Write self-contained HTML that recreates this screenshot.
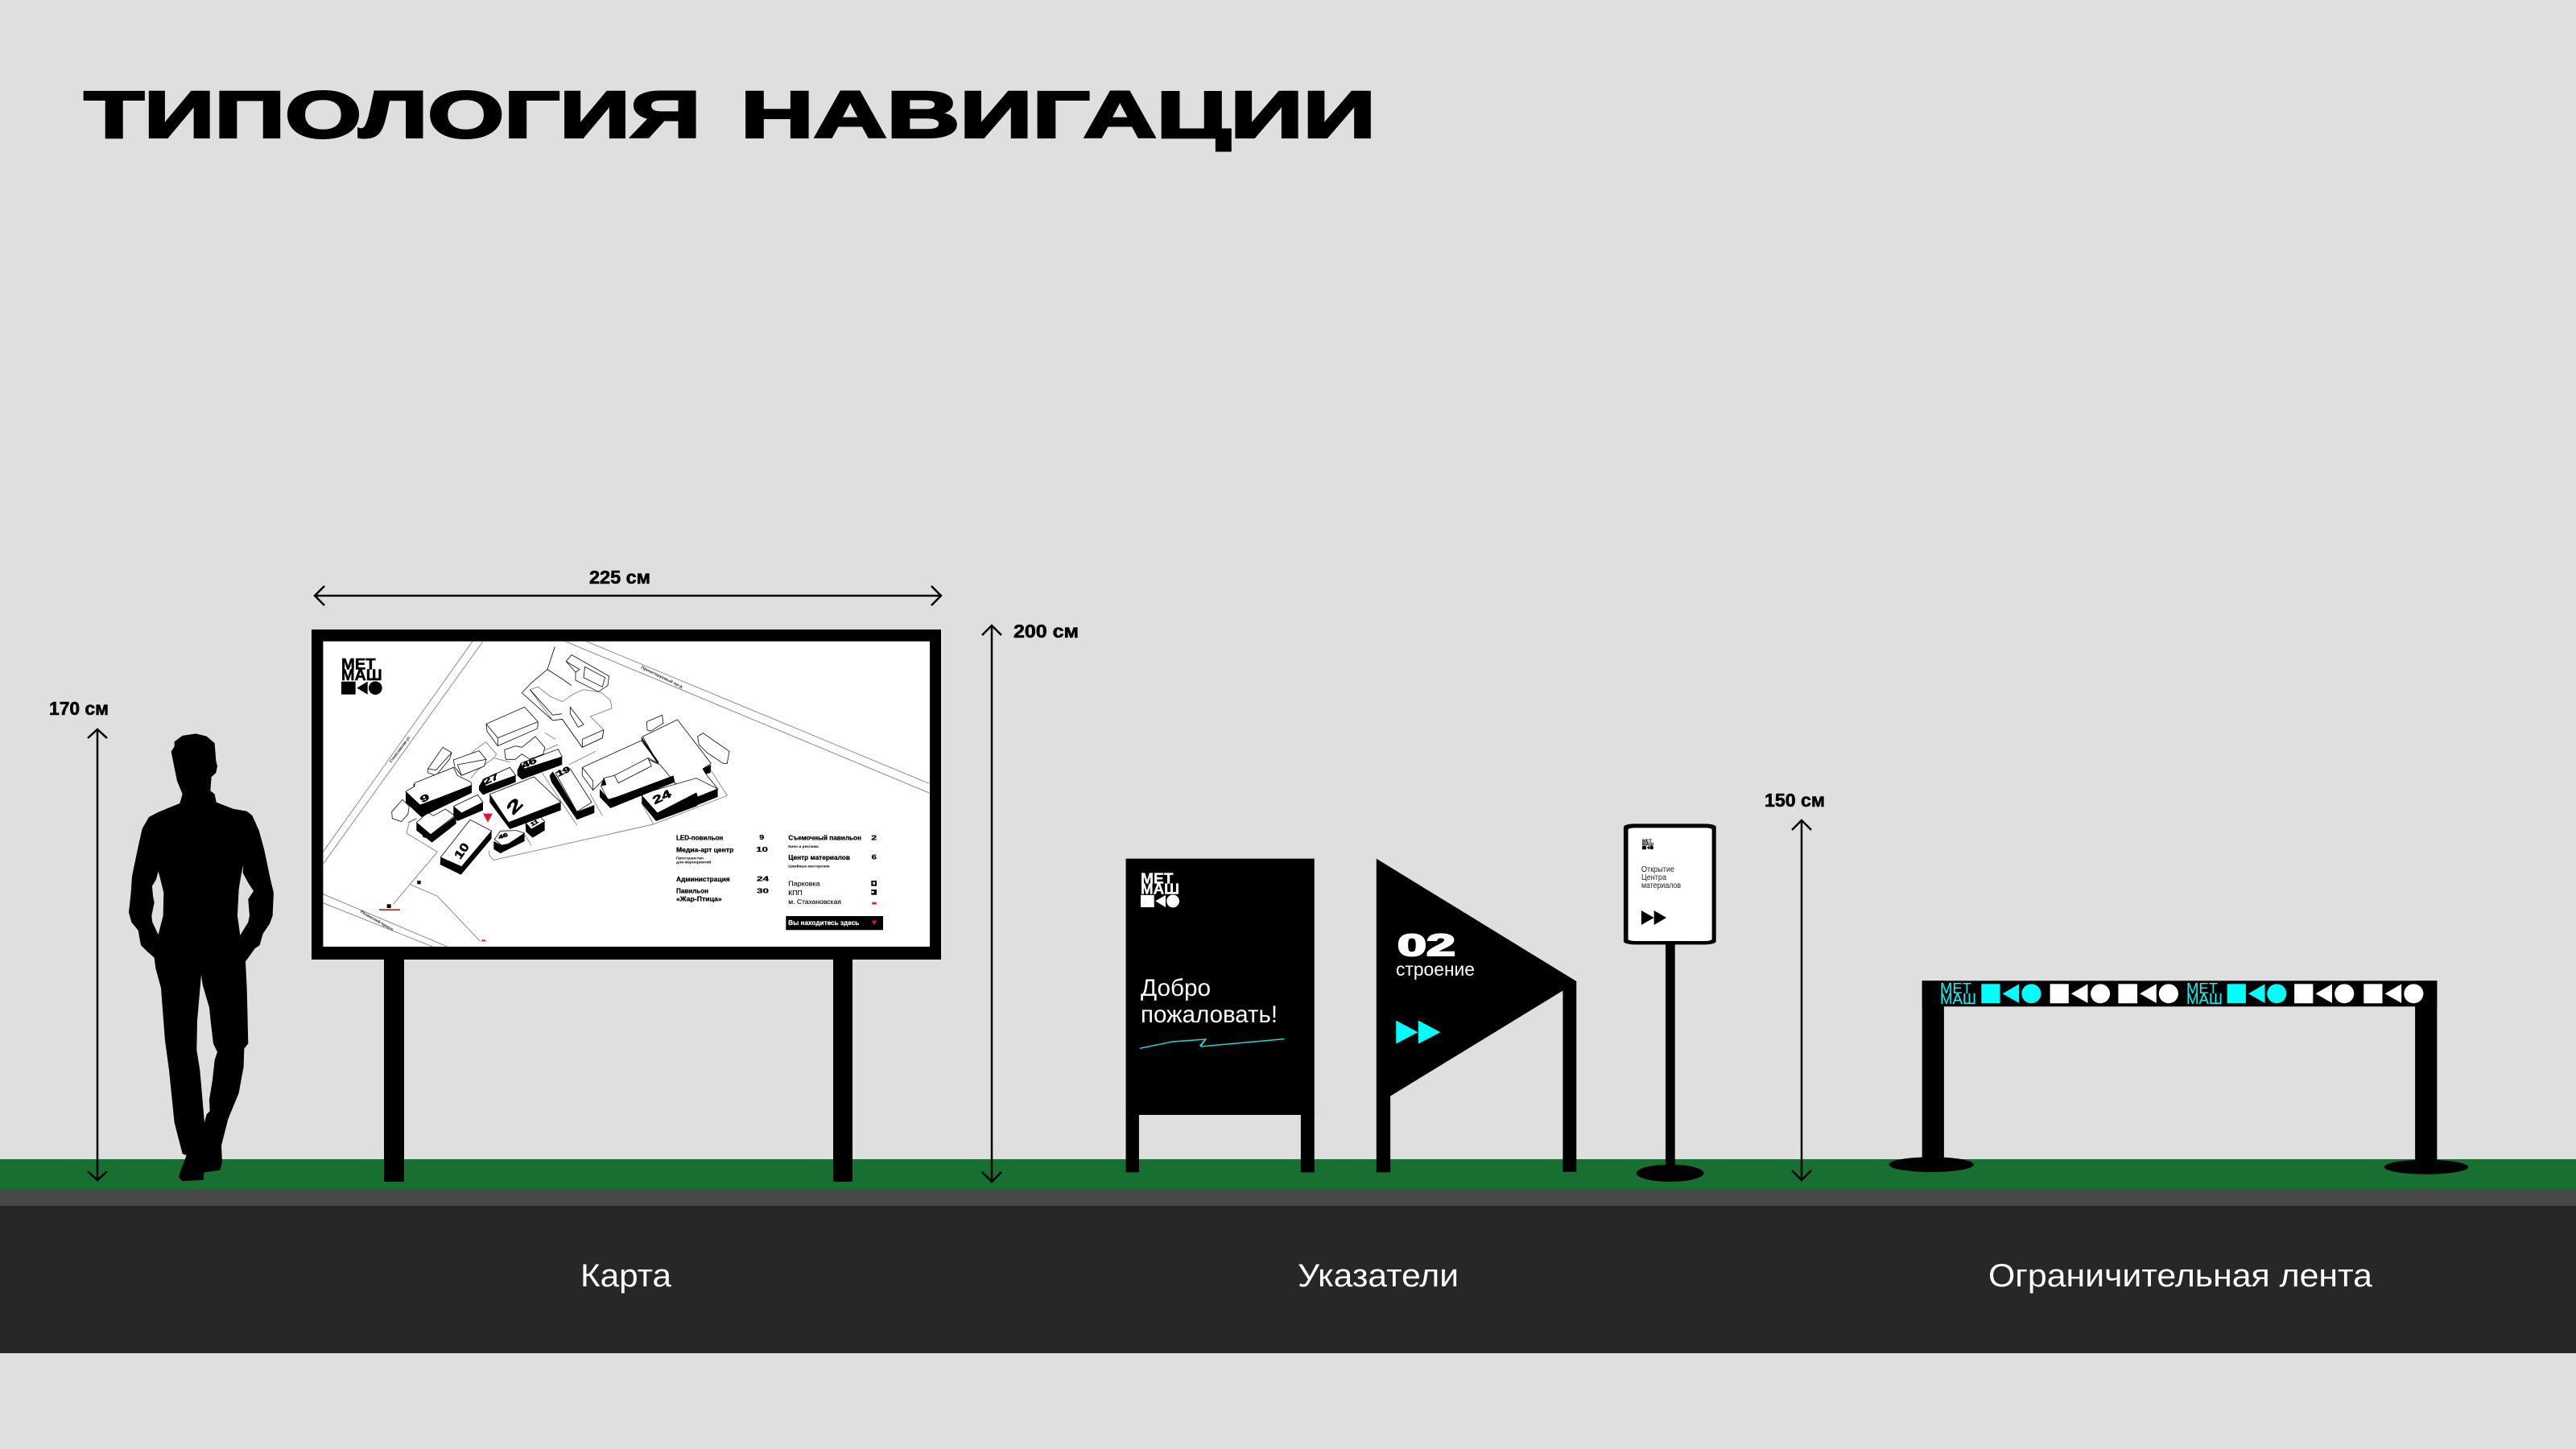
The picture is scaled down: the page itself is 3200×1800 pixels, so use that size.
<!DOCTYPE html>
<html><head><meta charset="utf-8"><style>html,body{margin:0;padding:0;background:#dfdfdf}svg{display:block}text{font-family:"Liberation Sans",sans-serif}</style></head><body>
<svg xmlns="http://www.w3.org/2000/svg" width="3200" height="1800" viewBox="0 0 3200 1800">
<defs><clipPath id="mc"><rect x="4" y="-10" width="2261" height="1138"/></clipPath></defs>
<rect width="3200" height="1800" fill="#dfdfdf"/>
<rect y="1440" width="3200" height="37" fill="#176f31"/>
<rect y="1477" width="3200" height="21" fill="#484848"/>
<rect y="1498" width="3200" height="183" fill="#272727"/>
<text x="104.500" y="170.500" font-size="82" font-weight="700" fill="#000" stroke="#000" stroke-width="3" textLength="766" lengthAdjust="spacingAndGlyphs">ТИПОЛОГИЯ</text>
<text x="920" y="170.500" font-size="82" font-weight="700" fill="#000" stroke="#000" stroke-width="3" textLength="789" lengthAdjust="spacingAndGlyphs">НАВИГАЦИИ</text>

<!-- dimensions -->
<g fill="none" stroke="#000" stroke-width="2.500">
<path d="M121 906V1466M109 917L121 906L133 917M109 1455L121 1466L133 1455"/>
<path d="M391 740H1169M403 728L391 740L403 752M1157 728L1169 740L1157 752"/>
<path d="M1232 777V1468M1220 789L1232 777L1244 789M1220 1456L1232 1468L1244 1456"/>
<path d="M2238 1019V1466M2226 1031L2238 1019L2250 1031M2226 1454L2238 1466L2250 1454"/>
</g>
<g font-weight="700" font-size="23" fill="#000" stroke="#000" stroke-width=".6">
<text x="61" y="888" textLength="74" lengthAdjust="spacingAndGlyphs">170 см</text>
<text x="732" y="725" textLength="76" lengthAdjust="spacingAndGlyphs">225 см</text>
<text x="1259" y="792" textLength="81" lengthAdjust="spacingAndGlyphs">200 см</text>
<text x="2192" y="1002" textLength="75" lengthAdjust="spacingAndGlyphs">150 см</text>
</g>

<!-- person -->
<g transform="translate(40 860) scale(.3333 .408)">
<path fill="#000" fill-rule="evenodd" d="M530 150L560 132L610 126L650 134L680 155L685 208L690 225L685 245L668 258L664 300L680 310L686 335L750 355L800 362L820 375L845 420L865 480L888 570L900 610L896 680L885 705L860 735L848 770L830 780L795 820L800 900L803 1000L805 1070L790 1085L788 1140L770 1220L730 1300L705 1380L708 1430L700 1455L640 1462L638 1485L560 1488L545 1475L575 1410L560 1405L530 1310L510 1150L495 1060L480 900L460 840L455 808L430 790L405 770L395 725L370 700L360 670L368 610L372 560L395 470L410 415L435 380L470 365L550 338L560 310L540 270L530 230L518 180L530 165Z
M470 545L462 570L447 590L450 620L455 640L445 680L448 700L470 738L488 680L490 610L478 570Z
M787 525L785 550L805 580L825 605L805 630L810 680L805 700L775 740L765 680L770 600L780 550Z
M630 860L615 1000L613 1090L625 1150L642 1310L650 1285L662 1275L660 1240L672 1180L680 1120L690 1095L675 1070L665 1000L660 960L635 890Z"/>
</g>

<!-- map board -->
<rect x="477" y="1190" width="25" height="278" fill="#000"/>
<rect x="1035" y="1190" width="24" height="278" fill="#000"/>
<rect x="387" y="782" width="782" height="410" fill="#000"/>
<rect x="401.400" y="796.700" width="753.600" height="379.300" fill="#fff"/>
<g transform="translate(400 800) scale(.3333)">
<g clip-path="url(#mc)">
<g fill="none" stroke="#8c8c8c" stroke-width="3">
<path d="M561 -10L4 775M600 -10L4 820"/>
<path d="M906 -10L2263 555M985 -10L2263 520"/>
<path d="M4 932L467 1128M4 965L412 1128"/>
<path d="M430 775L265 970M330 897L430 940L590 1108"/>
<path d="M430 775L315 705L325 665L355 650M350 650L320 665"/>
<path d="M625 770Q615 785 640 805L1235 672L1510 565L1430 440"/>
<path d="M1235 672L1190 590M950 675L820 480M1045 640L1000 560M780 750L755 710"/>
<path d="M555 500L580 470L640 425L650 410L610 365L570 395L545 420M640 425L700 440"/>
<path d="M830 330L870 355M880 375L820 400M920 450L1020 400"/>
<path d="M745 182L780 145L840 95L895 130L930 155M840 95L868 10" stroke="#333"/>
</g>
<g fill="#fff" stroke="#111" stroke-width="2.500" stroke-linejoin="miter">
<path d="M775 170L805 160L850 195L895 215L940 185L975 170L1040 180L1075 210L1080 240L1000 270L1050 320L1045 350L970 385L895 280L860 285Z" stroke="#777"/>
<path d="M745 182L860 285M860 285L895 280L970 385L1045 350L1050 320" fill="none"/>
<path d="M775 170L860 265M895 260L860 265M970 355L1050 320M970 355L970 385M925 235L975 300L955 310L925 260Z"/>
<path d="M930 40L1070 120L1065 155L1030 178L945 135L945 105L910 65Z"/>
<path d="M980 85L1055 125L1045 160L975 125ZM910 65L960 95L945 105" fill="none"/>
<path d="M612 298L755 235L805 290L803 315L655 380L615 325Z"/>
<path d="M612 298L655 350L805 290M655 350V380" fill="none"/>
<path d="M680 395L720 380L745 385L795 345L830 385L825 410L775 430L745 410L720 430L685 430Z"/>
<path d="M395 465L450 385L483 405L475 430L425 490L395 480Z"/>
<path d="M395 465L425 470L483 405" fill="none"/>
<path d="M490 432L585 398L612 430L605 455L520 490L495 460Z"/>
<path d="M505 450L612 430M505 450L520 490" fill="none"/>
<path d="M260 625L300 580L325 605L320 635L295 662L262 650Z"/>
<path d="M1400 345L1420 332L1518 400L1510 445L1495 445L1435 405L1405 375Z"/>
<path d="M1210 290L1268 265L1272 295L1225 325L1212 320Z"/>
<path d="M1195 345L1325 282L1450 445L1420 465L1435 490L1475 540L1395 560L1310 515L1255 450Z"/>
<path d="M970 460L1190 360L1255 445L1215 425L1095 490L1050 505L1015 540L1010 545L970 490Z"/>
<path d="M970 460L1010 510V545" fill="none"/>
<path d="M1040 530L1050 500L1090 490L1215 430L1260 450L1310 510L1065 580Z"/>
<path d="M1090 490L1215 425L1228 455L1105 518Z"/>
<path d="M312 550L345 530L345 518L490 460L505 490L555 515L558 530L365 600Z"/>
<path d="M352 665L395 628L415 640L460 615L495 640L405 710Z"/>
<path d="M490 605L580 562L600 590L520 630Z"/>
<path d="M600 505L700 460L722 490L610 530Z"/>
<path d="M740 445L880 392L895 420L755 465Z"/>
<path d="M870 480L925 465L1005 590L950 625Z"/>
<path d="M625 560L790 495L890 590L695 665Z"/>
<path d="M758 665L815 645L830 662L780 690Z"/>
<path d="M643 728L665 697L725 695L755 705L695 745L670 750Z"/>
<path d="M442 795L552 655L632 697L520 830Z"/>
<path d="M1192 565L1205 555L1395 500L1475 540L1400 570L1395 555L1250 630Z"/>
</g>
<g fill="#000">
<path d="M312 550L365 600L558 525V555L370 645L312 590Z"/>
<path d="M352 665V695L410 740L500 670V640L405 710Z"/>
<path d="M490 605L520 630L600 590V620L505 660L490 640Z"/>
<path d="M585 530L600 505L610 530L722 490V515L600 562L585 545Z"/>
<path d="M728 470L740 445L755 465L895 420V450L745 505L728 490Z"/>
<path d="M848 490L860 475L870 490L950 625L1015 600V630L950 655L855 515Z"/>
<path d="M625 560L695 665L890 590V620L700 690L625 590Z"/>
<path d="M758 665L780 690L830 662V695L785 722L760 700Z"/>
<path d="M640 735L670 750L695 745L755 705V735L695 765L665 780L640 765Z"/>
<path d="M442 795L520 830L632 697V725L518 860L440 822Z"/>
<path d="M1192 565L1250 630L1395 555L1400 570L1475 540V570L1400 600L1395 605L1245 660L1192 595Z"/>
<path d="M1035 540L1070 580L1310 490L1315 515L1075 612L1035 570Z"/>
<path d="M1190 345L1255 440L1250 445L1190 355Z"/>
<path d="M1418 465L1450 450L1448 480L1430 485Z"/>
<path d="M1040 530L1052 500L1060 525Z"/>
<path d="M345 518L345 535L340 525Z"/>
</g>
</g>
<g font-weight="700" fill="#000" stroke="#000" stroke-width="1.500">
<text transform="translate(372 592) rotate(-25)" font-size="34" textLength="34" lengthAdjust="spacingAndGlyphs">9</text>
<text transform="translate(608 525) rotate(-25)" font-size="32" textLength="58" lengthAdjust="spacingAndGlyphs">27</text>
<text transform="translate(750 465) rotate(-25)" font-size="32" textLength="58" lengthAdjust="spacingAndGlyphs">46</text>
<text transform="translate(880 495) rotate(-25)" font-size="30" textLength="52" lengthAdjust="spacingAndGlyphs">19</text>
<text transform="translate(712 640) rotate(-45)" font-size="62" textLength="58" lengthAdjust="spacingAndGlyphs">2</text>
<text transform="translate(782 680) rotate(-30)" font-size="20" textLength="30" lengthAdjust="spacingAndGlyphs">11</text>
<text transform="translate(660 728) rotate(-20)" font-size="20" textLength="36" lengthAdjust="spacingAndGlyphs">46</text>
<text transform="translate(515 805) rotate(-55)" font-size="44" textLength="62" lengthAdjust="spacingAndGlyphs">10</text>
<text transform="translate(1240 598) rotate(-25)" font-size="42" textLength="72" lengthAdjust="spacingAndGlyphs">24</text>
<text transform="translate(386 725) rotate(-60)" font-size="26" textLength="24" lengthAdjust="spacingAndGlyphs">6</text>
</g>
<g font-size="15" font-weight="700" fill="#222">
<text transform="translate(258 443) rotate(-53)" textLength="120" lengthAdjust="spacingAndGlyphs">Станиславская ул.</text>
<text transform="translate(1188 90) rotate(26)" textLength="170" lengthAdjust="spacingAndGlyphs">Проектируемый пр-д</text>
<text transform="translate(142 1000) rotate(30)" textLength="142" lengthAdjust="spacingAndGlyphs">Рязанский просп.</text>
</g>
<path d="M600 632H636L618 665Z" fill="#e8112d"/>
<rect x="242" y="970" width="15" height="14" fill="#000"/><rect x="355" y="882" width="13" height="13" fill="#000"/>
<rect x="213" y="988" width="78" height="5" fill="#c81e1e"/>
<path d="M594 1108L598 1100L602 1104L606 1100L611 1108Z" fill="#e8112d"/>
<!-- logo -->
<g>
<g font-weight="700" font-size="58" fill="#000" stroke="#000" stroke-width="1.500">
<text x="72" y="95" textLength="128" lengthAdjust="spacingAndGlyphs">МЕТ</text>
<text x="72" y="135" textLength="152" lengthAdjust="spacingAndGlyphs">МАШ</text></g>
<rect x="72" y="140" width="53" height="48"/><path d="M170 140V188L130 164Z"/><circle cx="199" cy="164" r="25"/>
</g>
</g>

<!-- legend -->
<g transform="translate(780 1000) scale(.3333)">
<g font-size="25" font-weight="700" fill="#000" stroke="#000" stroke-width=".7">
<text x="180" y="130" textLength="175" lengthAdjust="spacingAndGlyphs">LED-повильон</text>
<text x="490" y="129" textLength="18" lengthAdjust="spacingAndGlyphs">9</text>
<text x="180" y="175" textLength="214" lengthAdjust="spacingAndGlyphs">Медиа-арт центр</text>
<text x="478" y="174" textLength="44" lengthAdjust="spacingAndGlyphs">10</text>
<text x="180" y="285" textLength="200" lengthAdjust="spacingAndGlyphs">Администрация</text>
<text x="480" y="283" textLength="45" lengthAdjust="spacingAndGlyphs">24</text>
<text x="180" y="329" textLength="120" lengthAdjust="spacingAndGlyphs">Павильон</text>
<text x="480" y="328" textLength="45" lengthAdjust="spacingAndGlyphs">30</text>
<text x="180" y="358" textLength="170" lengthAdjust="spacingAndGlyphs">«Жар-Птица»</text>
<text x="598" y="130" textLength="272" lengthAdjust="spacingAndGlyphs">Съемочный павильон</text>
<text x="907" y="130" textLength="21" lengthAdjust="spacingAndGlyphs">2</text>
<text x="598" y="204" textLength="230" lengthAdjust="spacingAndGlyphs">Центр материалов</text>
<text x="908" y="203" textLength="19" lengthAdjust="spacingAndGlyphs">6</text>
</g>
<g font-size="13" font-weight="700" fill="#000">
<text x="180" y="203" textLength="102" lengthAdjust="spacingAndGlyphs">Пространство</text>
<text x="180" y="218" textLength="130" lengthAdjust="spacingAndGlyphs">для мероприятий</text>
<text x="598" y="159" textLength="112" lengthAdjust="spacingAndGlyphs">Кино и реклама</text>
<text x="598" y="232" textLength="154" lengthAdjust="spacingAndGlyphs">Швейные мастерские</text>
</g>
<g font-size="25" fill="#000" stroke="#000" stroke-width=".3">
<text x="598" y="302" textLength="118" lengthAdjust="spacingAndGlyphs">Парковка</text>
<text x="598" y="336" textLength="52" lengthAdjust="spacingAndGlyphs">КПП</text>
<text x="598" y="369" textLength="197" lengthAdjust="spacingAndGlyphs">м. Стахановская</text>
</g>
<rect x="907" y="282" width="20" height="20" fill="#000"/><rect x="913" y="287" width="8" height="9" fill="#fff"/>
<rect x="907" y="315" width="20" height="20" fill="#000"/><rect x="908" y="321" width="9" height="7" fill="#fff"/>
<path d="M908 370L913 360L918 365L923 360L928 370Z" fill="#e8112d"/>
<rect x="589" y="414" width="362" height="52" fill="#000"/>
<text x="598" y="447" font-size="24" font-weight="700" fill="#fff" stroke="#fff" stroke-width=".5" textLength="264" lengthAdjust="spacingAndGlyphs">Вы находитесь здесь</text>
<path d="M908 430H928L918 447Z" fill="#e8112d"/>
</g>

<!-- sign 1 -->
<g transform="translate(1370 1000) scale(.5102 .3333)" fill="#000">
<rect x="56" y="200" width="459" height="955"/><rect x="56" y="1150" width="32" height="219"/><rect x="482" y="1150" width="33" height="219"/>
<path d="M666 200L1153 657V1367H1120V692L700 1085V1369H666Z"/>
<rect x="1370" y="500" width="23" height="860"/>
<ellipse cx="1381" cy="1372" rx="82" ry="32"/>
<rect x="1268" y="70" width="225" height="450" rx="26" ry="12"/>
<rect x="1279" y="85" width="204" height="422" rx="16" ry="7" fill="#fff"/>
<path d="M1311 393L1342 420L1311 447ZM1342 393L1372 420L1342 447Z"/>
<path d="M714 803L767 847L714 890ZM768 803L822 847L768 890Z" fill="#00ffff"/>
<path d="M90 907L170 882L250 873L238 897L240 900L442 872" fill="none" stroke="#1fd6db" stroke-width="4.500"/>
</g>
<!-- sign1 logo -->
<g transform="translate(1417 1085) scale(.3158)" fill="#fff">
<g font-size="58" font-weight="700" stroke="#fff" stroke-width="1">
<text x="0" y="40" textLength="128" lengthAdjust="spacingAndGlyphs">МЕТ</text>
<text x="0" y="80" textLength="152" lengthAdjust="spacingAndGlyphs">МАШ</text></g>
<rect x="0" y="85" width="53" height="48"/><path d="M98 85V133L58 109Z"/><circle cx="127" cy="109" r="25"/>
</g>
<text x="1417" y="1237" font-size="30" fill="#fff" textLength="87" lengthAdjust="spacingAndGlyphs">Добро</text>
<text x="1417" y="1270" font-size="30" fill="#fff" textLength="170" lengthAdjust="spacingAndGlyphs">пожаловать!</text>
<text x="1736" y="1187" font-size="38" font-weight="700" fill="#fff" stroke="#fff" stroke-width="2" textLength="72" lengthAdjust="spacingAndGlyphs">02</text>
<text x="1734" y="1212" font-size="23" fill="#fff" textLength="98" lengthAdjust="spacingAndGlyphs">строение</text>
<!-- sign3 -->
<g transform="translate(2040 1043) scale(.0921)" fill="#000">
<g font-size="58" font-weight="700" stroke="#000" stroke-width="1">
<text x="0" y="40" textLength="128" lengthAdjust="spacingAndGlyphs">МЕТ</text>
<text x="0" y="80" textLength="152" lengthAdjust="spacingAndGlyphs">МАШ</text></g>
<rect x="0" y="85" width="53" height="48"/><path d="M98 85V133L58 109Z"/><circle cx="127" cy="109" r="25"/>
</g>
<g font-size="10" fill="#222">
<text x="2039" y="1083" textLength="41" lengthAdjust="spacingAndGlyphs">Открытие</text>
<text x="2039" y="1093" textLength="31" lengthAdjust="spacingAndGlyphs">Центра</text>
<text x="2039" y="1103" textLength="49" lengthAdjust="spacingAndGlyphs">материалов</text>
</g>

<!-- ribbon -->
<g transform="translate(2360 1190) scale(.4464 .3333)">
<rect x="62" y="85" width="1433" height="96" fill="#000"/>
<rect x="62" y="85" width="61" height="685" fill="#000"/>
<rect x="1434" y="85" width="61" height="690" fill="#000"/>
<ellipse cx="88" cy="770" rx="118" ry="28" fill="#000"/>
<ellipse cx="1465" cy="779" rx="117" ry="27" fill="#000"/>
<g fill="#00ffff">
<rect x="227" y="97" width="52" height="72"/><path d="M332 97L286 133L332 168Z"/><ellipse cx="366" cy="133" rx="27" ry="36"/>
<rect x="911" y="97" width="52" height="72"/><path d="M1016 97L970 133L1016 168Z"/><ellipse cx="1049" cy="133" rx="27" ry="36"/>
</g>
<g fill="#fff">
<rect x="418" y="97" width="52" height="72"/><path d="M523 97L477 133L523 168Z"/><ellipse cx="558" cy="133" rx="27" ry="36"/>
<rect x="608" y="97" width="53" height="72"/><path d="M714 97L668 133L714 168Z"/><ellipse cx="748" cy="133" rx="27" ry="36"/>
<rect x="1098" y="97" width="52" height="72"/><path d="M1203 97L1157 133L1203 168Z"/><ellipse cx="1237" cy="133" rx="27" ry="36"/>
<rect x="1291" y="97" width="52" height="72"/><path d="M1396 97L1350 133L1396 168Z"/><ellipse cx="1430" cy="133" rx="27" ry="36"/>
</g>
</g>
<g font-size="18" fill="#00ffff">
<text x="2410" y="1234" textLength="39" lengthAdjust="spacingAndGlyphs">МЕТ</text>
<text x="2410" y="1247" textLength="45" lengthAdjust="spacingAndGlyphs">МАШ</text>
<text x="2716" y="1234" textLength="39" lengthAdjust="spacingAndGlyphs">МЕТ</text>
<text x="2716" y="1247" textLength="45" lengthAdjust="spacingAndGlyphs">МАШ</text>
</g>

<!-- bottom labels -->
<g font-size="40" fill="#fff">
<text x="721" y="1598" textLength="113" lengthAdjust="spacingAndGlyphs">Карта</text>
<text x="1612" y="1598" textLength="200" lengthAdjust="spacingAndGlyphs">Указатели</text>
<text x="2470" y="1598" textLength="477" lengthAdjust="spacingAndGlyphs">Ограничительная лента</text>
</g>
</svg>
</body></html>
